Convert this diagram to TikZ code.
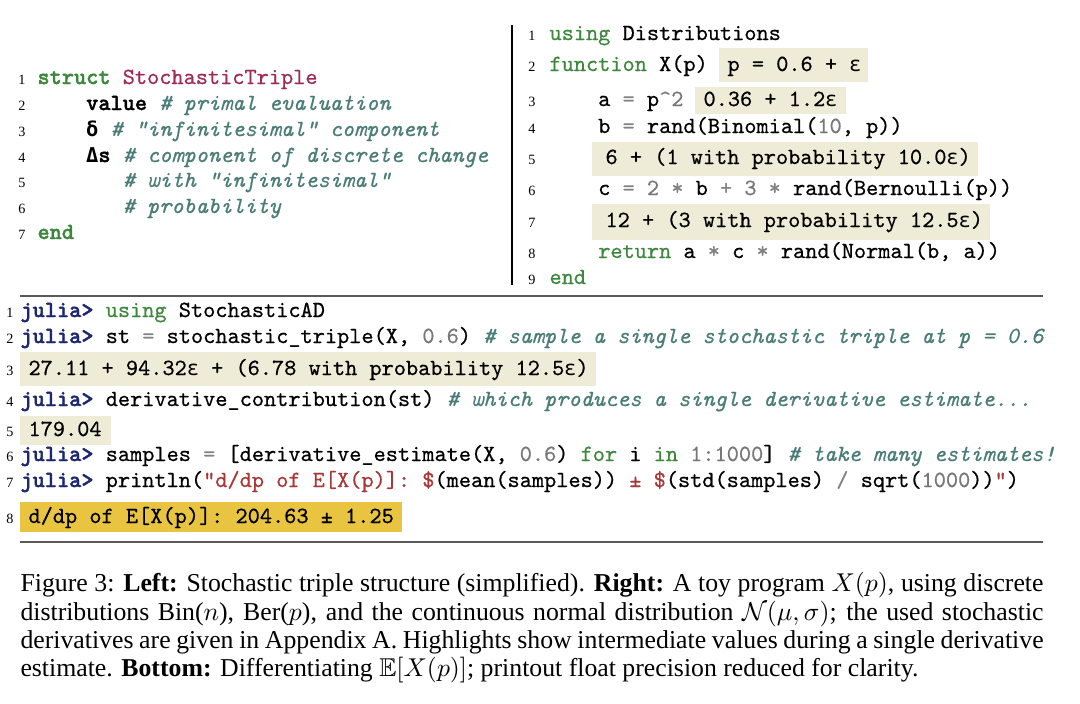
\documentclass[tikz,border=0pt]{standalone}
\usepackage{fontspec}
\usepackage{amsmath,amssymb}
\newfontfamily\capfont{Liberation Serif}
\newfontfamily\lnfont{Liberation Serif}
\setmonofont{lmmono10-regular.otf}[FakeBold=0.6, ItalicFont=lmmono10-italic.otf, ItalicFeatures={FakeBold=0.6}, BoldFont=lmmonolt10-bold.otf, BoldFeatures={FakeBold=1.6}]
\newfontfamily\gkmono{DejaVu Sans Mono}[Scale=0.88]
\definecolor{kwgreen}{RGB}{60,135,60}
\definecolor{typecol}{RGB}{158,42,88}
\definecolor{cmtcol}{RGB}{75,125,120}
\definecolor{numgray}{RGB}{120,120,120}
\definecolor{opgray}{RGB}{130,130,130}
\definecolor{jlblue}{RGB}{30,40,110}
\definecolor{strred}{RGB}{170,55,55}
\definecolor{hlbeige}{RGB}{238,235,214}
\definecolor{hlgold}{RGB}{232,196,64}
\definecolor{rulecol}{RGB}{90,90,90}
\newcommand\ckw[1]{\textcolor{kwgreen}{#1}}
\newcommand\ccm[1]{\textcolor{cmtcol}{\itshape #1}}
\newcommand\cnm[1]{\textcolor{numgray}{#1}}
\newcommand\cop[1]{\textcolor{opgray}{#1}}
\newcommand\cstr[1]{\textcolor{strred}{#1}}
\newcommand\cjl{\textcolor{jlblue}{\bfseries julia>}}
\newcommand\ceps{\makebox[0.525em][c]{\gkmono ε}}
\newcommand\cdel{\makebox[0.525em][c]{\gkmono\bfseries δ}}
\newcommand\cDel{\makebox[0.525em][c]{\gkmono\bfseries Δ}}
\tikzset{
  codeline/.style={anchor=base west, inner sep=0, font=\fontsize{9}{10}\selectfont\ttfamily\frenchspacing},
  lnum/.style={anchor=base east, inner sep=0, font=\lnfont\fontsize{5.5}{6}\selectfont},
  hlb/.style={fill=hlbeige},
  hlg/.style={fill=hlgold},
  hrule/.style={draw=rulecol, line width=0.6pt},
  vrule/.style={draw=black, line width=0.8pt}
}
\begin{document}
\begin{tikzpicture}[x=0.38805pt, y=-0.38805pt]
\useasboundingbox (0,0) rectangle (1080,703);
% ---------- top-left: struct ----------
\node[lnum] (l1n) at (26,84) {1};
\node[codeline] (l1) at (37,84) {\textbf{\ckw{struct}} \textcolor{typecol}{StochasticTriple}};
\node[lnum] (l2n) at (26,110) {2};
\node[codeline] (l2) at (37,110) {~~~~\textbf{value} \ccm{\# primal evaluation}};
\node[lnum] (l3n) at (26,136) {3};
\node[codeline] (l3) at (37,136) {~~~~\cdel{} \ccm{\# "infinitesimal" component}};
\node[lnum] (l4n) at (26,162) {4};
\node[codeline] (l4) at (37,162) {~~~~\cDel\textbf{s} \ccm{\# component of discrete change}};
\node[lnum] (l5n) at (26,187) {5};
\node[codeline] (l5) at (37,187) {~~~~~~~\ccm{\# with "infinitesimal"}};
\node[lnum] (l6n) at (26,213) {6};
\node[codeline] (l6) at (37,213) {~~~~~~~\ccm{\# probability}};
\node[lnum] (l7n) at (26,239) {7};
\node[codeline] (l7) at (37,239) {\textbf{\ckw{end}}};
% ---------- vertical rule ----------
\coordinate (vt) at (512,25);
\coordinate (vb) at (512,285);
\draw[vrule] (vt) -- (vb);
% ---------- top-right: program ----------
\fill[hlb] (719,48) rectangle (868,82);
\fill[hlb] (695,87) rectangle (846,114);
\fill[hlb] (592,142) rectangle (978,176);
\fill[hlb] (592,204) rectangle (990,240);
\node[lnum] (r1n) at (536,40) {1};
\node[codeline] (r1) at (549,40) {\ckw{using} Distributions};
\node[lnum] (r2n) at (536,71) {2};
\node[codeline] (r2) at (549,71) {\ckw{function} X(p)};
\node[codeline] (r2h) at (727,71) {p = 0.6 + \ceps};
\node[lnum] (r3n) at (536,106) {3};
\node[codeline] (r3) at (549,106) {~~~~a \cop{=} p\cop{\textasciicircum}\cnm{2}};
\node[codeline] (r3h) at (703,106) {0.36 + 1.2\ceps};
\node[lnum] (r4n) at (536,133) {4};
\node[codeline] (r4) at (549,133) {~~~~b \cop{=} rand(Binomial(\cnm{10}, p))};
\node[lnum] (r5n) at (536,164) {5};
\node[codeline] (r5h) at (605,164) {6 + (1 with probability 10.0\ceps)};
\node[lnum] (r6n) at (536,195) {6};
\node[codeline] (r6) at (549,195) {~~~~c \cop{=} \cnm{2} \cop{*} b \cop{+} \cnm{3} \cop{*} rand(Bernoulli(p))};
\node[lnum] (r7n) at (536,227) {7};
\node[codeline] (r7h) at (605,227) {12 + (3 with probability 12.5\ceps)};
\node[lnum] (r8n) at (536,258) {8};
\node[codeline] (r8) at (549,258) {~~~~\ckw{return} a \cop{*} c \cop{*} rand(Normal(b, a))};
\node[lnum] (r9n) at (536,284) {9};
\node[codeline] (r9) at (549,284) {\ckw{end}};
% ---------- rules ----------
\coordinate (ra) at (20,296);
\coordinate (rb) at (1043,296);
\draw[hrule] (ra) -- (rb);
\coordinate (rc) at (20,542);
\coordinate (rd) at (1043,542);
\draw[hrule] (rc) -- (rd);
% ---------- bottom: REPL ----------
\fill[hlb] (20,352) rectangle (596,386);
\fill[hlb] (20,416) rectangle (111,445);
\fill[hlg] (20,502) rectangle (402,532);
\node[lnum] (b1n) at (14,317) {1};
\node[codeline] (b1) at (20,317) {\cjl{} \ckw{using} StochasticAD};
\node[lnum] (b2n) at (14,343) {2};
\node[codeline] (b2) at (20,343) {\cjl{} st \cop{=} stochastic\_triple(X, \cnm{0.6}) \ccm{\# sample a single stochastic triple at p = 0.6}};
\node[lnum] (b3n) at (14,375) {3};
\node[codeline] (b3) at (28,375) {27.11 + 94.32\ceps{} + (6.78 with probability 12.5\ceps)};
\node[lnum] (b4n) at (14,406) {4};
\node[codeline] (b4) at (20,406) {\cjl{} derivative\_contribution(st) \ccm{\# which produces a single derivative estimate...}};
\node[lnum] (b5n) at (14,436) {5};
\node[codeline] (b5) at (28,436) {179.04};
\node[lnum] (b6n) at (14,461) {6};
\node[codeline] (b6) at (20,461) {\cjl{} samples \cop{=} [derivative\_estimate(X, \cnm{0.6}) \ckw{for} i \ckw{in} \cnm{1:1000}] \ccm{\# take many estimates!}};
\node[lnum] (b7n) at (14,487) {7};
\node[codeline] (b7) at (20,487) {\cjl{} println(\cstr{"d/dp of E[X(p)]: \$}(mean(samples)) \cstr{± \$}(std(samples) \cop{/} sqrt(\cnm{1000}))\cstr{"})};
\node[lnum] (b8n) at (14,523) {8};
\node[codeline] (b8) at (28,523) {d/dp of E[X(p)]: 204.63 ± 1.25};
% ---------- caption ----------
\node[anchor=north west, inner sep=0, text width=397pt, align=justify,
      font=\capfont\fontsize{10}{11}\selectfont] (cap) at (20,572)
 {Figure 3: \textbf{Left:} Stochastic triple structure (simplified). \textbf{Right:} A toy program $X(p)$, using discrete distributions Bin($n$), Ber($p$), and the continuous normal distribution $\mathcal{N}(\mu,\sigma)$; the used stochastic derivatives are given in Appendix A. Highlights show intermediate values during a single derivative estimate. \textbf{Bottom:} Differentiating $\mathbb{E}[X(p)]$; printout float precision reduced for clarity.};
\end{tikzpicture}
\end{document}
